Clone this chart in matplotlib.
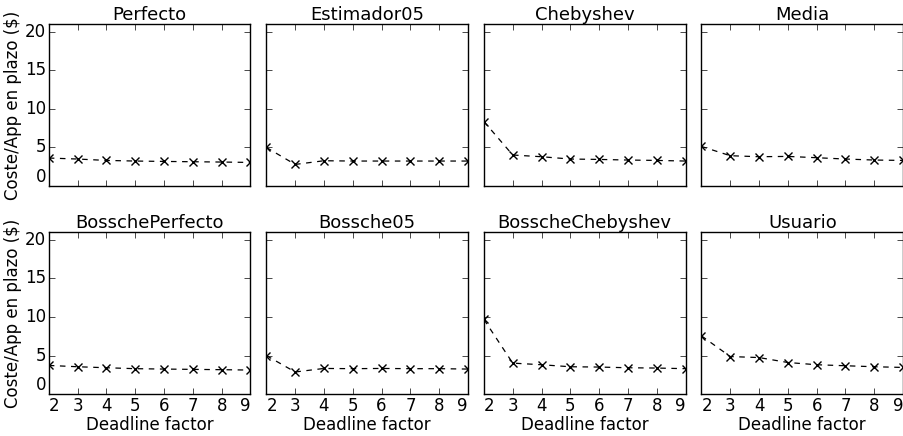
"""
Coste por aplicacion en plazo segun el deadline factor, 8 estimadores
"""

import matplotlib
matplotlib.use("Agg")
import matplotlib.pyplot as plt

factores = [2, 3, 4, 5, 6, 7, 8, 9]

perfecto = [3.63, 3.50, 3.32, 3.24, 3.19, 3.15, 3.11, 3.06]
estimador05 = [5.0, 2.80, 3.28, 3.24, 3.24, 3.24, 3.24, 3.24]
chebyshev = [8.36, 4.02, 3.80, 3.50, 3.45, 3.37, 3.32, 3.24]
media = [5.13, 3.93, 3.80, 3.84, 3.67, 3.50, 3.37, 3.32]
bossche_perfecto = [3.72, 3.55, 3.42, 3.30, 3.25, 3.21, 3.17, 3.12]
bossche05 = [5.0, 2.87, 3.33, 3.30, 3.33, 3.30, 3.30, 3.25]
bossche_chebyshev = [9.68, 4.02, 3.81, 3.55, 3.51, 3.42, 3.38, 3.30]
usuario = [7.55, 4.87, 4.74, 4.10, 3.81, 3.68, 3.55, 3.46]

titulos = ["Perfecto", "Estimador05", "Chebyshev", "Media",
           "BosschePerfecto", "Bossche05", "BosscheChebyshev", "Usuario"]
series = [perfecto, estimador05, chebyshev, media,
          bossche_perfecto, bossche05, bossche_chebyshev, usuario]


def main():
    plt.style.use("classic")
    fig, axes = plt.subplots(2, 4, figsize=(9.04, 4.36), dpi=100,
                             sharex=True, sharey=True)
    fig.patch.set_facecolor("white")
    fig.subplots_adjust(left=0.054, right=0.999, top=0.945, bottom=0.096,
                        wspace=0.079, hspace=0.284)

    for i, ax in enumerate(axes.flat):
        ax.plot(factores, series[i], "k--x", markersize=5.5, markeredgewidth=1,
                linewidth=0.9, dashes=(4, 4))
        ax.set_title(titulos[i], fontsize=13, pad=3)
        ax.set_xlim(2, 9)
        ax.set_ylim(0, 21)
        ax.set_xticks(factores)
        ax.set_yticks([0, 5, 10, 15, 20])
        ax.tick_params(labelsize=12, pad=2)
        ax.set_facecolor("white")

    for ax in axes[1]:
        ax.set_xlabel("Deadline factor", fontsize=12, labelpad=1)
        etiquetas = ax.get_xticklabels()
        etiquetas[0].set_ha("left")
        etiquetas[-1].set_ha("right")
    for ax in axes[:, 0]:
        ax.set_ylabel("Coste/App en plazo ($)", fontsize=12, labelpad=2)
        ax.get_yticklabels()[0].set_va("bottom")

    fig.savefig("out.png", dpi=100, facecolor="white")


if __name__ == "__main__":
    main()
